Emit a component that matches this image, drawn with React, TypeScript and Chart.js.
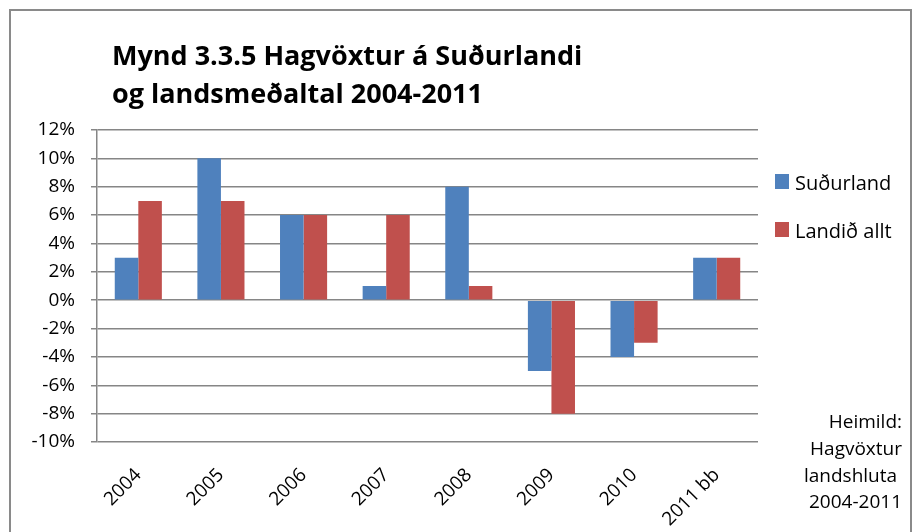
import React, { useEffect, useRef } from "react";
import { Chart, registerables } from "chart.js";

Chart.register(...registerables);

const categories = ["2004", "2005", "2006", "2007", "2008", "2009", "2010", "2011 bb"];
const sudurland = [3, 10, 6, 1, 8, -5, -4, 3];
const landidAllt = [7, 7, 6, 6, 1, -8, -3, 3];
const seriesNames = ["Suðurland", "Landið allt"];
const seriesColors = ["#4F81BD", "#C0504D"];
const titleLines = ["Mynd 3.3.5 Hagvöxtur á Suðurlandi", "og landsmeðaltal 2004-2011"];
const sourceLines = ["Heimild:", "Hagvöxtur", "landshluta ", "2004-2011"];

const FONT = "'Open Sans', sans-serif";

const decorPlugin = {
  id: "decor",
  beforeDraw(chart: any) {
    const ctx = chart.ctx;
    ctx.save();
    ctx.fillStyle = "#ffffff";
    ctx.fillRect(0, 0, chart.width, chart.height);
    ctx.strokeStyle = "#8a8a8a";
    ctx.lineWidth = 2;
    ctx.strokeRect(10, 10, 901, 540);
    ctx.restore();
  },
  afterDraw(chart: any) {
    const ctx = chart.ctx;
    ctx.save();
    // title
    ctx.fillStyle = "#000000";
    ctx.textAlign = "left";
    ctx.textBaseline = "alphabetic";
    ctx.font = `bold 27px ${FONT}`;
    ctx.fillText(titleLines[0], 112, 65);
    ctx.fillText(titleLines[1], 112, 103);
    // legend
    ctx.font = `20px ${FONT}`;
    const ds = chart.data.datasets;
    ds.forEach((d: any, i: number) => {
      const y = 174 + i * 48;
      ctx.fillStyle = d.backgroundColor;
      ctx.fillRect(775, y, 14, 15);
      ctx.fillStyle = "#000000";
      ctx.fillText(d.label, 795, y + 16);
    });
    // source
    ctx.font = `19px ${FONT}`;
    ctx.textAlign = "right";
    const bases = [428, 455, 482, 508];
    sourceLines.forEach((t, i) => {
      ctx.fillText(t, 902, bases[i]);
    });
    ctx.restore();
  },
};

export default function App() {
  const ref = useRef<HTMLCanvasElement | null>(null);
  useEffect(() => {
    if (!ref.current) return;
    const chart = new Chart(ref.current, {
      type: "bar",
      data: {
        labels: categories,
        datasets: [
          { label: seriesNames[0], data: sudurland, backgroundColor: seriesColors[0] },
          { label: seriesNames[1], data: landidAllt, backgroundColor: seriesColors[1] },
        ],
      },
      options: {
        animation: false,
        responsive: false,
        maintainAspectRatio: false,
        layout: { padding: { left: 20, right: 155, top: 130, bottom: 0 } },
        datasets: { bar: { categoryPercentage: 0.57, barPercentage: 1.0 } },
        plugins: {
          legend: { display: false },
          title: { display: false },
          tooltip: { enabled: false },
        },
        scales: {
          x: {
            grid: { display: false, drawTicks: false },
            border: { display: false },
            ticks: {
              color: "#000",
              font: { family: FONT, size: 19 },
              maxRotation: 45,
              minRotation: 45,
              padding: 22,
              autoSkip: false,
            },
            afterFit(scale: any) {
              scale.height = 90;
            },
          },
          y: {
            min: -10,
            max: 12,
            grid: { color: "#868686", lineWidth: 1.5, tickLength: 6 },
            border: { color: "#868686", width: 1.5 },
            ticks: {
              stepSize: 2,
              color: "#000",
              padding: 16,
              font: { family: FONT, size: 19 },
              callback: (v: any) => `${v}%`,
            },
            afterFit(scale: any) {
              scale.width = 77;
            },
          },
        },
      },
      plugins: [decorPlugin],
    });
    return () => chart.destroy();
  }, []);
  return (
    <canvas
      ref={ref}
      width={913}
      height={532}
      style={{ position: "fixed", left: 0, top: 0, width: 913, height: 532 }}
    />
  );
}
